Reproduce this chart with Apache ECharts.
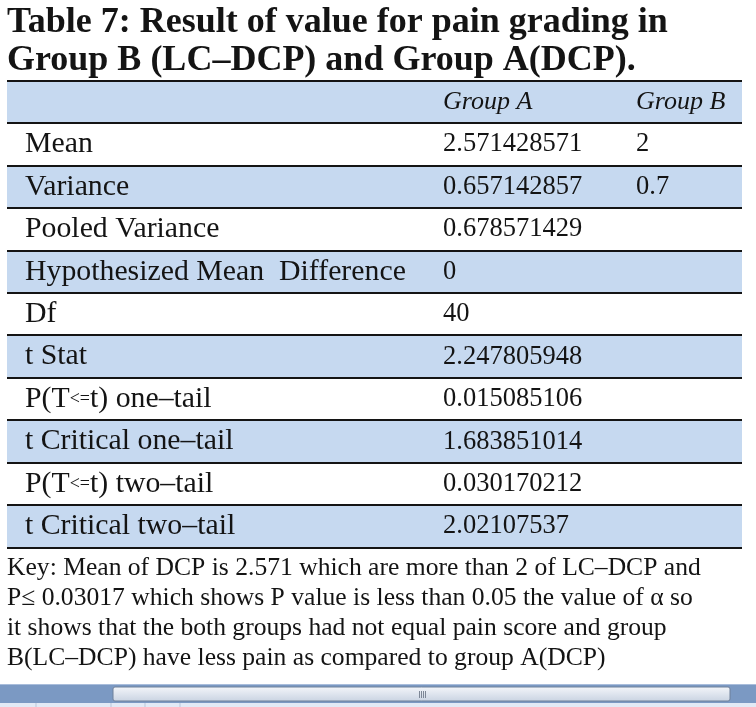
<!DOCTYPE html>
<html>
<head>
<meta charset="utf-8">
<script src="https://cdn.jsdelivr.net/npm/echarts@6/dist/echarts.min.js"></script>
<style>
  html, body { margin: 0; padding: 0; background: #fff; }
  #table7 { width: 756px; height: 707px; }
</style>
</head>
<body>
<div id="table7"></div>
<script>
// table content
const columnHeaders = ['', 'Group A', 'Group B'];
const rowLabels = [
  'Mean',
  'Variance',
  'Pooled Variance',
  'Hypothesized Mean  Difference',
  'Df',
  't Stat',
  'P(T<=t) one–tail',
  't Critical one–tail',
  'P(T<=t) two–tail',
  't Critical two–tail',
];
const groupA = [
  '2.571428571', '0.657142857', '0.678571429', '0', '40',
  '2.247805948', '0.015085106', '1.683851014', '0.030170212', '2.02107537',
];
const groupB = ['2', '0.7', '', '', '', '', '', '', '', ''];

const titleText = 'Table 7: Result of value for pain grading in\nGroup B (LC–DCP) and Group A(DCP).';
const keyText = [
  'Key: Mean of DCP is 2.571 which are more than 2 of LC–DCP and',
  'P≤ 0.03017 which shows P value is less than 0.05 the value of α so',
  'it shows that the both groups had not equal pain score and group',
  'B(LC–DCP) have less pain as compared to group A(DCP)',
];

const serif = '"Liberation Serif", "DejaVu Serif", serif';
const band = '#c6d9f0';
const ink = '#141414';
// text offsets of the three columns, from the table's left edge
const colOffsets = [18, 436, 629];

const rowNames = ['header'].concat(rowLabels);

function cellText(x, y, text, size, italic) {
  // "<=" is set smaller in the original
  const parts = text.split('<=');
  const rich = parts.length > 1 ? parts[0] + '{s|<=}' + parts[1] : text;
  return {
    type: 'text',
    z2: 5,
    style: {
      x: x, y: y, text: rich,
      fill: ink,
      fontSize: size,
      fontStyle: italic ? 'italic' : 'normal',
      fontFamily: serif,
      verticalAlign: 'middle',
      rich: { s: { fontSize: 18, fontFamily: serif, fill: ink, verticalAlign: 'middle' } },
    },
  };
}

function hline(x1, x2, y) {
  // drawn above every band so the next row's fill never covers it
  return { type: 'line', z2: 10, shape: { x1: x1, y1: y, x2: x2, y2: y }, style: { stroke: ink, lineWidth: 2 } };
}

function renderRow(params, api) {
  const i = api.value(1);
  const center = api.coord([0, i]);
  const h = api.size([0, 1])[1];
  const left = params.coordSys.x;
  const w = params.coordSys.width;
  const top = Math.round(center[1] - h / 2);
  const bottom = Math.round(center[1] + h / 2);
  const children = [];
  if (i % 2 === 0) {
    children.push({ type: 'rect', z2: 0, shape: { x: left, y: top, width: w, height: bottom - top }, style: { fill: band } });
  }
  if (i === 0) children.push(hline(left, left + w, top));
  children.push(hline(left, left + w, bottom));
  if (i === 0) {
    columnHeaders.forEach(function (t, c) {
      if (t) children.push(cellText(left + colOffsets[c], center[1], t, 26, true));
    });
  } else {
    children.push(cellText(left + colOffsets[0], center[1], rowLabels[i - 1], 29.8, false));
    if (groupA[i - 1]) children.push(cellText(left + colOffsets[1], center[1], groupA[i - 1], 26.5, false));
    if (groupB[i - 1]) children.push(cellText(left + colOffsets[2], center[1], groupB[i - 1], 26.5, false));
  }
  return { type: 'group', children: children };
}

const chart = echarts.init(document.getElementById('table7'));
const option = {
  animation: false,
  title: [
    {
      text: titleText,
      left: 7,
      top: 4,
      padding: 0,
      textStyle: { fontFamily: serif, fontWeight: 'bold', fontSize: 36, lineHeight: 38, color: ink },
    },
    {
      text: keyText.join('\n'),
      left: 7,
      top: 553,
      padding: 0,
      textStyle: { fontFamily: serif, fontWeight: 'normal', fontSize: 25.6, lineHeight: 30, color: ink },
    },
  ],
  grid: { left: 7, right: 14, top: 80.7, height: 467, containLabel: false },
  xAxis: { type: 'value', min: 0, max: 1, show: false },
  yAxis: { type: 'category', data: rowNames, inverse: true, show: false },
  series: [
    {
      type: 'custom',
      renderItem: renderRow,
      data: rowNames.map(function (name, i) { return [0, i]; }),
      silent: true,
    },
  ],
  graphic: [
    // window scrollbar strip at the bottom of the screenshot
    { type: 'rect', shape: { x: 0, y: 684, width: 756, height: 19 }, style: { fill: '#7b99c3' } },
    { type: 'line', shape: { x1: 0, y1: 684.5, x2: 756, y2: 684.5 }, style: { stroke: '#a9bddb', lineWidth: 1 } },
    {
      type: 'rect',
      shape: { x: 113, y: 687, width: 617, height: 14, r: 2 },
      style: {
        fill: new echarts.graphic.LinearGradient(0, 0, 0, 1, [
          { offset: 0, color: '#f4f6fa' },
          { offset: 1, color: '#c9d3e2' },
        ]),
        stroke: '#6f809a',
        lineWidth: 1,
      },
    },
    { type: 'line', shape: { x1: 419.5, y1: 691, x2: 419.5, y2: 698 }, style: { stroke: '#7d8796', lineWidth: 1 } },
    { type: 'line', shape: { x1: 421.5, y1: 691, x2: 421.5, y2: 698 }, style: { stroke: '#7d8796', lineWidth: 1 } },
    { type: 'line', shape: { x1: 423.5, y1: 691, x2: 423.5, y2: 698 }, style: { stroke: '#7d8796', lineWidth: 1 } },
    { type: 'line', shape: { x1: 425.5, y1: 691, x2: 425.5, y2: 698 }, style: { stroke: '#7d8796', lineWidth: 1 } },
    { type: 'rect', shape: { x: 0, y: 703, width: 756, height: 4 }, style: { fill: '#e2eaf6' } },
    { type: 'line', shape: { x1: 36, y1: 703, x2: 36, y2: 707 }, style: { stroke: '#b9c6da' } },
    { type: 'line', shape: { x1: 111, y1: 703, x2: 111, y2: 707 }, style: { stroke: '#b9c6da' } },
    { type: 'line', shape: { x1: 145, y1: 703, x2: 145, y2: 707 }, style: { stroke: '#b9c6da' } },
    { type: 'line', shape: { x1: 180, y1: 703, x2: 180, y2: 707 }, style: { stroke: '#b9c6da' } },
  ],
};
chart.setOption(option);
</script>
</body>
</html>
